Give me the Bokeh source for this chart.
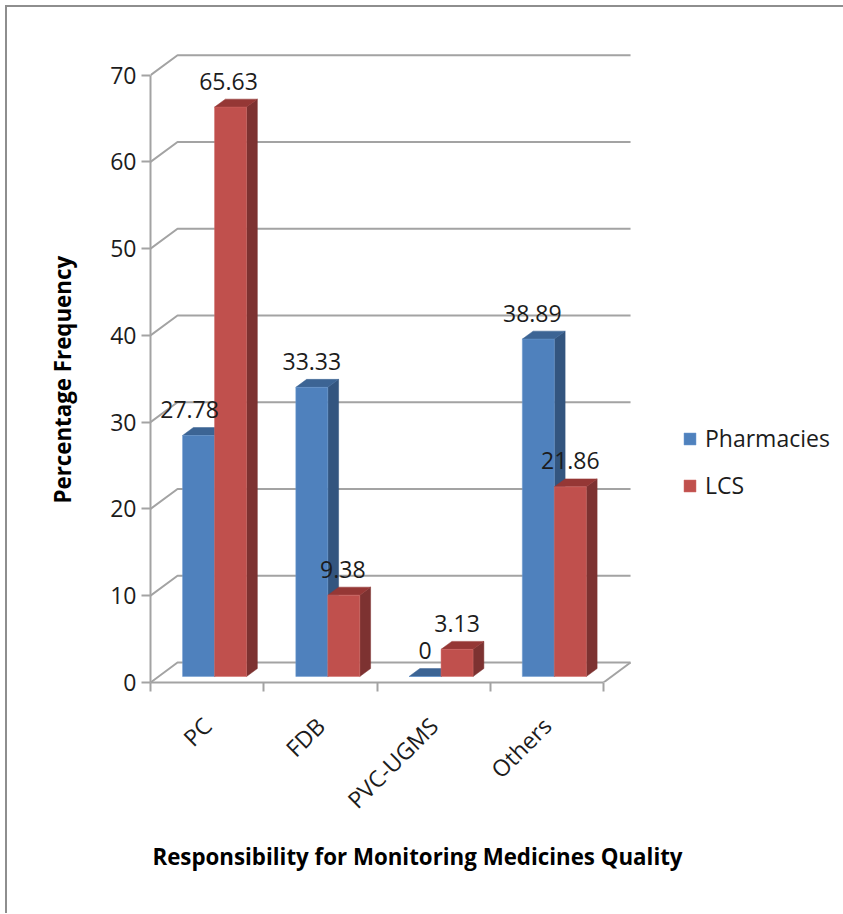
from bokeh.plotting import figure
from bokeh.embed import file_html
from bokeh.resources import INLINE
from bokeh.models import (ColumnDataSource, FixedTicker, Legend, LegendItem, Range1d, Title)
from bokeh.layouts import column
from bokeh.core.properties import value
import math

categories = ["PC", "FDB", "PVC-UGMS", "Others"]
pharmacies = [27.78, 33.33, 0, 38.89]
lcs = [65.63, 9.38, 3.13, 21.86]
pharmacies_labels = ["27.78", "33.33", "0", "38.89"]
lcs_labels = ["65.63", "9.38", "3.13", "21.86"]
y_ticks = [0, 10, 20, 30, 40, 50, 60, 70]

FONT = "Open Sans"
TEXT = "#1c1c1c"
GRID = "#a3a3a3"
BW = 0.2825          # bar width in category units
BX0 = 0.283          # first bar offset inside a category
WALL_X, WALL_Y = 0.2385, 2.3     # full depth of the chart box
FRONT = 0.3          # depth at which the bars start
BAR_D = 0.4          # depth of a bar


def proj(x, v, d):
    return x + d * WALL_X, v + d * WALL_Y


p = figure(frame_width=534, frame_height=629, output_backend="svg", toolbar_location=None,
           x_range=Range1d(0, 4.715), y_range=Range1d(0, 72.5),
           min_border_left=143, min_border_right=159, min_border_top=46, min_border_bottom=231,
           background_fill_color="white", border_fill_color="white", outline_line_color=None)
p.grid.visible = False

xs, ys = [], []
for t in y_ticks:
    bx, by = proj(0, t, 1)
    ex, ey = proj(4, t, 1)
    xs.append([0, bx, ex]); ys.append([t, by, ey])
fx, fy = proj(4, 0, 1)
xs.append([4, fx]); ys.append([0, fy])
p.multi_line(xs, ys, line_color=GRID, line_width=2)


def bars(vals, offset, front, side, top, edge):
    sx, sy, tx, ty, cx, bot, tp = [], [], [], [], [], [], []
    for i, v in enumerate(vals):
        x0 = i + BX0 + offset * BW
        x1 = x0 + BW
        _, b0 = proj(0, 0, FRONT)
        _, t0 = proj(0, v, FRONT)
        dx, dy = BAR_D * WALL_X, BAR_D * WALL_Y
        sx.append([x1, x1 + dx, x1 + dx, x1])
        sy.append([b0, b0 + dy, t0 + dy, t0])
        tx.append([x0, x0 + dx, x1 + dx, x1])
        ty.append([t0, t0 + dy, t0 + dy, t0])
        cx.append((x0 + x1) / 2); bot.append(b0); tp.append(t0)
    p.patches(sx, sy, fill_color=side, line_color=side, line_width=0.5)
    p.patches(tx, ty, fill_color=top, line_color=top, line_width=0.5)
    r = p.vbar(x=cx, bottom=bot, top=tp, width=BW, fill_color=front, line_color=edge, line_width=0.5)
    return r, cx, tp


r1, cx1, tp1 = bars(pharmacies, 0, "#4f81bd", "#33557f", "#3c6494", "#6f9ad0")
r2, cx2, tp2 = bars(lcs, 1, "#c0504d", "#7d3231", "#953735", "#d06a67")

label_src = ColumnDataSource(dict(
    x=cx1 + cx2, y=tp1 + tp2, text=pharmacies_labels + lcs_labels,
    dx=[-9, 0, 0, -6, -2, -1, 0, 0],
))
p.text(x="x", y="y", text="text", source=label_src, x_offset="dx", y_offset=-26,
       text_font=value(FONT), text_font_size="23px", text_align="center",
       text_baseline="middle", text_color=TEXT)

yax = p.yaxis[0]
yax.ticker = FixedTicker(ticks=y_ticks)
yax.bounds = (0, 70)
yax.axis_line_color = GRID; yax.axis_line_width = 2
yax.major_tick_line_color = GRID; yax.major_tick_line_width = 2
yax.major_tick_out = 9; yax.major_tick_in = 0
yax.minor_tick_line_color = None
yax.major_label_text_font = FONT; yax.major_label_text_font_size = "23px"
yax.major_label_text_color = TEXT; yax.major_label_standoff = 5

xax = p.xaxis[0]
xax.ticker = FixedTicker(ticks=[i + 0.5 for i in range(4)], minor_ticks=list(range(5)))
xax.major_label_overrides = {i + 0.5: c for i, c in enumerate(categories)}
xax.bounds = (0, 4)
xax.axis_line_color = GRID; xax.axis_line_width = 2
xax.major_tick_line_color = None
xax.minor_tick_line_color = GRID; xax.minor_tick_line_width = 2
xax.minor_tick_out = 9; xax.minor_tick_in = 0
xax.major_label_orientation = math.pi / 4
xax.major_label_text_font = FONT; xax.major_label_text_font_size = "23px"
xax.major_label_text_color = TEXT; xax.major_label_standoff = 30
xax.axis_label = "Responsibility for Monitoring Medicines Quality"
xax.axis_label_text_font = FONT; xax.axis_label_text_font_size = "22.3px"
xax.axis_label_text_font_style = "bold"; xax.axis_label_text_color = "#000000"
xax.axis_label_standoff = 12

ytitle = Title(text="Percentage Frequency", align="left", offset=179, standoff=60,
               text_font=FONT, text_font_size="22.3px", text_font_style="bold",
               text_color="#000000")
p.add_layout(ytitle, "left")

legend = Legend(items=[LegendItem(label="Pharmacies", renderers=[r1]), LegendItem(label="LCS", renderers=[r2])],
                location=(-2, 181), orientation="vertical", background_fill_alpha=0,
                border_line_color=None, padding=0, margin=0, spacing=15,
                glyph_width=15, glyph_height=15, label_height=30, label_standoff=8,
                label_text_font=FONT, label_text_font_size="23px", label_text_color=TEXT)
p.add_layout(legend, "right")

page = column(p, styles={"margin-left": "5px", "margin-top": "5px",
                         "border-left": "2px solid #8e8e8e", "border-top": "2px solid #8e8e8e"})
open("out.html", "w").write(file_html(page, INLINE))
